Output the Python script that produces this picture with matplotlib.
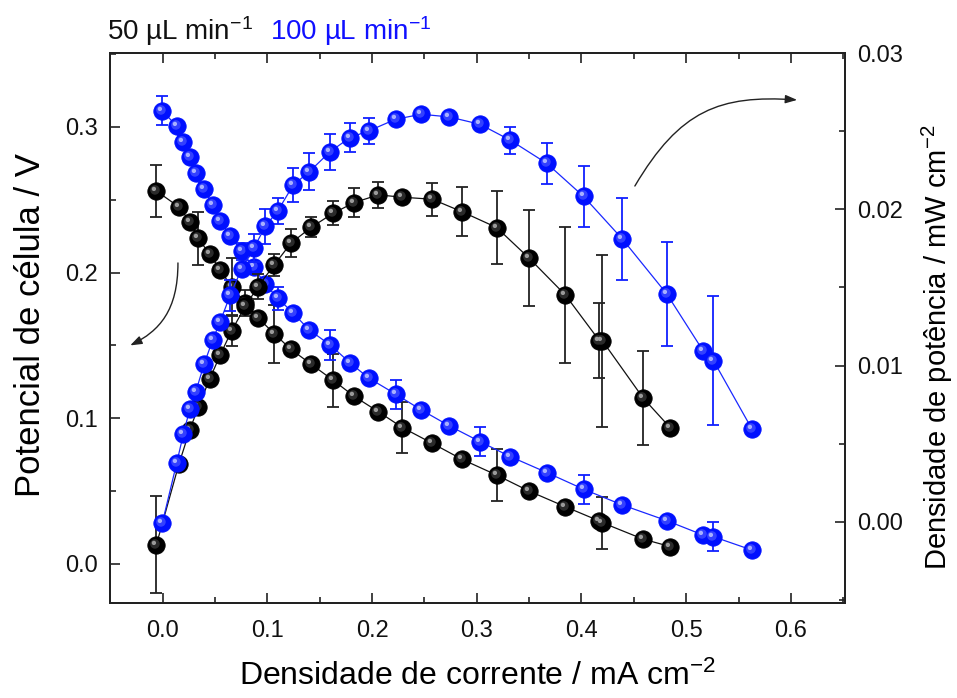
import numpy as np
import matplotlib
matplotlib.use('Agg')
import matplotlib.pyplot as plt
from matplotlib.path import Path
from matplotlib.patches import FancyArrowPatch
from matplotlib.ticker import MultipleLocator

plt.rcParams['font.family'] = ['Liberation Sans', 'DejaVu Sans']
plt.rcParams['mathtext.fontset'] = 'custom'
plt.rcParams['mathtext.rm'] = 'Liberation Sans'
plt.rcParams['mathtext.it'] = 'Liberation Sans:italic'

# 50 uL/min (preto)
j50 = [-0.006, 0.0156, 0.026, 0.034, 0.045, 0.055, 0.066, 0.079, 0.091, 0.1066,
       0.1225, 0.142, 0.163, 0.183, 0.206, 0.229, 0.2575, 0.2856, 0.319, 0.350,
       0.3845, 0.417, 0.420, 0.459, 0.485]
V50 = [0.256, 0.245, 0.235, 0.2235, 0.2125, 0.2018, 0.190, 0.179, 0.169, 0.158,
       0.1473, 0.137, 0.126, 0.115, 0.1045, 0.0936, 0.0828, 0.0719, 0.061, 0.050,
       0.0393, 0.0295, 0.0283, 0.017, 0.0119]
eV50 = [0.018, 0, 0, 0.018, 0, 0, 0.02, 0.009, 0, 0.02,
        0, 0, 0.018, 0, 0, 0.0176, 0, 0, 0.018, 0,
        0, 0, 0.0177, 0, 0]
P50 = [-0.00147, 0.00371, 0.00589, 0.00734, 0.00915, 0.01068, 0.01224, 0.0138, 0.01505, 0.01644,
       0.01783, 0.01885, 0.01975, 0.02043, 0.02092, 0.02077, 0.02064, 0.01985, 0.01883, 0.01687,
       0.01452, 0.0116, 0.01158, 0.00791, 0.0060]
eP50 = [0.0031, 0.0003, 0, 0.0003, 0, 0.0003, 0.001, 0, 0.0008, 0.0007,
        0.0009, 0.00064, 0.00075, 0.00093, 0.00082, 0, 0.00107, 0.00158, 0.00236, 0.00307,
        0.00434, 0.0024, 0.0055, 0.003, 0]

# 100 uL/min (azul)
j100 = [-0.0004, 0.0134, 0.0197, 0.026, 0.0315, 0.0397, 0.0478, 0.0547, 0.0645, 0.0755,
        0.087, 0.098, 0.110, 0.1247, 0.140, 0.160, 0.179, 0.197, 0.2225, 0.247,
        0.2735, 0.303, 0.332, 0.367, 0.402, 0.439, 0.4815, 0.516, 0.526, 0.5626]
V100 = [0.311, 0.3006, 0.2894, 0.279, 0.268, 0.2574, 0.2464, 0.2356, 0.2251, 0.2145,
        0.2036, 0.192, 0.1824, 0.1721, 0.1606, 0.1503, 0.138, 0.1275, 0.1166, 0.1057,
        0.0949, 0.0840, 0.0737, 0.0627, 0.0513, 0.0405, 0.0297, 0.0199, 0.0187, 0.0096]
eV100 = [0.010, 0, 0.004, 0, 0, 0.004, 0, 0, 0, 0.006,
         0, 0, 0.008, 0, 0, 0.010, 0, 0, 0.010, 0,
         0, 0.010, 0, 0, 0.010, 0, 0, 0, 0.010, 0]
P100 = [-0.0001, 0.00376, 0.00559, 0.00723, 0.00829, 0.01011, 0.01164, 0.01277, 0.0145, 0.0162,
        0.0175, 0.0189, 0.0199, 0.02155, 0.0224, 0.02369, 0.02459, 0.02502, 0.02576, 0.02608,
        0.02591, 0.02544, 0.02442, 0.02293, 0.02082, 0.0181, 0.01458, 0.01096, 0.01032, 0.00596]
eP100 = [0, 0, 0, 0, 0, 0, 0, 0, 0.001, 0,
         0.0009, 0.0011, 0.00085, 0.0011, 0.0012, 0.00115, 0.0009, 0.00085, 0, 0,
         0, 0, 0.00086, 0.00134, 0.00197, 0.0026, 0.0033, 0, 0.00413, 0]


def spot(cx, cy, r):
    # circulo deslocado dentro do marcador (brilho da esfera)
    c = Path.circle((cx, cy), r)
    verts = np.vstack([[[1, 1], [-1, -1]], c.vertices])
    codes = np.concatenate([[Path.MOVETO, Path.MOVETO], c.codes])
    return Path(verts, codes)


hl1 = spot(-0.18, 0.18, 0.55)
hl2 = spot(-0.3, 0.3, 0.25)
MS = 12.5


def serie(ax, x, y, e, base, mid, light, line, ecol, z):
    x = np.array(x); y = np.array(y); e = np.array(e)
    ax.plot(x, y, '-', color=line, lw=0.9, zorder=z)
    m = e > 0
    ax.errorbar(x[m], y[m], yerr=e[m], fmt='none', ecolor=ecol, elinewidth=1.3,
                capsize=4.5, capthick=1.3, zorder=z + 0.1)
    ax.plot(x, y, 'o', ms=MS, mfc=base, mec=base, mew=0.6, ls='none', zorder=z + 0.2)
    ax.plot(x, y, marker=hl1, ms=MS, mfc=mid, mew=0, ls='none', zorder=z + 0.3)
    ax.plot(x, y, marker=hl2, ms=MS, mfc=light, mew=0, ls='none', zorder=z + 0.4)


fig = plt.figure(figsize=(9.57, 6.98), dpi=100)
ax = fig.add_axes([110 / 957, 1 - 603 / 698, 735 / 957, 550 / 698])
ax2 = ax.twinx()

serie(ax, j50, V50, eV50, '#000000', '#2a2a2a', '#9a9a9a', '#111111', '#222222', 3)
serie(ax, j100, V100, eV100, '#0010ff', '#3340ff', '#a8b0ff', '#1a28ff', '#1020ff', 4)
serie(ax2, j50, P50, eP50, '#000000', '#2a2a2a', '#9a9a9a', '#111111', '#222222', 3)
serie(ax2, j100, P100, eP100, '#0010ff', '#3340ff', '#a8b0ff', '#1a28ff', '#1020ff', 4)

ax.set_xlim(-0.0503, 0.6517)
ax.set_ylim(-0.0268, 0.3507)
ax2.set_ylim(-0.0052, 0.030)

ax.xaxis.set_major_locator(MultipleLocator(0.1))
ax.xaxis.set_minor_locator(MultipleLocator(0.05))
ax.yaxis.set_major_locator(MultipleLocator(0.1))
ax.yaxis.set_minor_locator(MultipleLocator(0.05))
ax2.yaxis.set_major_locator(MultipleLocator(0.01))
ax2.yaxis.set_minor_locator(MultipleLocator(0.005))
ax.xaxis.set_major_formatter(plt.FuncFormatter(lambda v, p: f'{v:.1f}'))
ax.yaxis.set_major_formatter(plt.FuncFormatter(lambda v, p: f'{v:.1f}'))
ax2.yaxis.set_major_formatter(plt.FuncFormatter(lambda v, p: f'{v:.2f}'))

ax.tick_params(axis='x', which='both', direction='in', top=True, labelsize=17, pad=12, color='#222222')
ax.tick_params(axis='y', which='both', direction='in', right=False, labelsize=17, pad=9, color='#222222')
ax2.tick_params(axis='y', which='both', direction='in', labelsize=17, pad=9, color='#222222')
for a in (ax, ax2):
    a.tick_params(which='major', length=7, width=1.2)
    a.tick_params(which='minor', length=4, width=1.2)
    for s in a.spines.values():
        s.set_linewidth(1.4)
        s.set_color('#222222')
for lab in ax.get_yticklabels() + ax2.get_yticklabels() + ax.get_xticklabels():
    lab.set_color('#111111')

fig.text(31 / 957, 1 - 325 / 698, 'Potencial de célula / V', rotation=90,
         ha='center', va='center', fontsize=25)
fig.text(477 / 957, 1 - 676 / 698, 'Densidade de corrente / mA cm$^{-2}$',
         ha='center', va='center', fontsize=23)
fig.text(937 / 957, 1 - 347 / 698, 'Densidade de potência / mW cm$^{-2}$', rotation=90,
         ha='center', va='center', fontsize=21)

fig.text(107 / 957, 1 - 40 / 698, '50 µL min$^{-1}$', ha='left', va='baseline',
         fontsize=20, color='#111111')
fig.text(270 / 957, 1 - 40 / 698, '100 µL min$^{-1}$', ha='left', va='baseline',
         fontsize=20, color='#1010ff')

# setas curvas
p1 = Path([(0.0146, 0.2066), (0.0146, 0.174), (-0.003, 0.160), (-0.031, 0.150)],
          [Path.MOVETO, Path.CURVE4, Path.CURVE4, Path.CURVE4])
ax.add_patch(FancyArrowPatch(path=p1, arrowstyle='-|>,head_length=7,head_width=2.5',
                             color='#222222', lw=1.0, zorder=6))
p2 = Path([(0.451, 0.2594), (0.494, 0.3116), (0.532, 0.322), (0.606, 0.3185)],
          [Path.MOVETO, Path.CURVE4, Path.CURVE4, Path.CURVE4])
ax.add_patch(FancyArrowPatch(path=p2, arrowstyle='-|>,head_length=7,head_width=2.5',
                             color='#222222', lw=1.0, zorder=6))

fig.savefig('out.png', dpi=100)
